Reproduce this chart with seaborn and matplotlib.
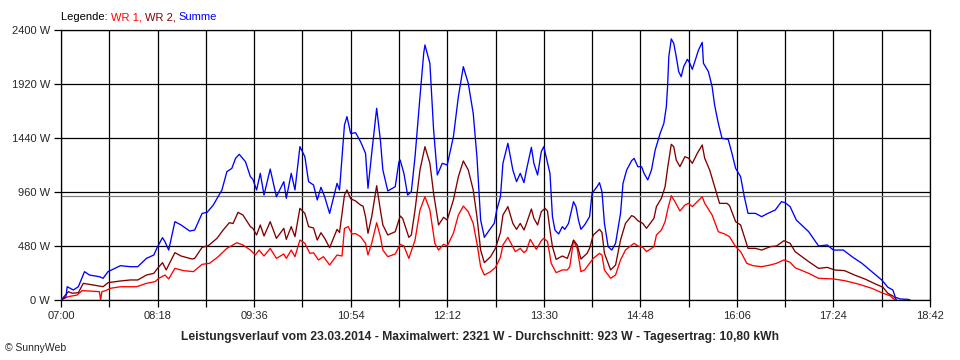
import numpy as np
import pandas as pd
import matplotlib
matplotlib.use("Agg")
import matplotlib.pyplot as plt
import seaborn as sns

# minutes after 07:00 and power in W
summe_min = [0, 4, 5, 10, 14, 19, 23, 31, 34, 38, 48, 56, 62, 69, 75, 78, 82, 84, 87, 92,
             97, 104, 108, 114, 118, 123, 130, 134, 138, 141, 144, 149, 153, 155, 158, 161, 164, 169, 174, 180,
             182, 186, 189, 193, 197, 200, 204, 207, 210, 213, 217, 223, 225, 229, 231, 234, 238, 242, 246, 248,
             251, 255, 258, 260, 264, 270, 273, 274, 277, 280, 283, 286, 290, 293, 294, 298, 301, 304, 308, 312,
             317, 321, 325, 329, 333, 336, 339, 342, 347, 350, 352, 355, 357, 361, 365, 368, 371, 374, 376, 380,
             382, 385, 388, 390, 395, 397, 399, 402, 405, 407, 410, 414, 416, 418, 420, 423, 427, 429, 433, 435,
             437, 439, 442, 445, 448, 452, 454, 457, 461, 463, 466, 469, 471, 474, 477, 480, 484, 487, 489, 490,
             491, 493, 495, 497, 499, 501, 503, 506, 508, 510, 512, 515, 518, 519, 523, 526, 528, 531, 534, 539,
             542, 545, 549, 552, 555, 561, 566, 571, 577, 582, 585, 589, 594, 604, 612, 619, 624, 632, 639, 647,
             655, 663, 668, 672, 674, 678, 684, 686]
summe_w = [0, 30, 118, 89, 118, 252, 222, 207, 193, 252, 305, 296, 296, 370, 400, 474, 554, 518, 444, 696,
           667, 613, 622, 770, 779, 844, 978, 1141, 1170, 1259, 1295, 1230, 1096, 1073, 978, 1126, 933, 1164, 918, 1052,
           904, 1126, 978, 1363, 1274, 1052, 1022, 889, 1002, 918, 770, 1037, 978, 1556, 1630, 1480, 1487, 1407, 1304, 993,
           1304, 1704, 1422, 1156, 969, 1007, 1230, 1244, 1126, 933, 963, 1274, 1807, 2193, 2267, 2104, 1511, 1111, 1215, 1200,
           1452, 1807, 2074, 1926, 1659, 1274, 711, 557, 637, 681, 800, 918, 1215, 1393, 1156, 1052, 1126, 1043, 1156, 1357,
           1215, 1111, 1319, 1363, 1126, 741, 622, 587, 652, 628, 681, 874, 830, 711, 628, 667, 741, 948, 1007, 1043,
           963, 681, 474, 444, 504, 770, 1037, 1156, 1239, 1259, 1185, 1185, 1126, 1067, 1156, 1333, 1481, 1570, 1718, 1896,
           2163, 2321, 2281, 2163, 2030, 1985, 2074, 2140, 2104, 2050, 2118, 2222, 2290, 2104, 2030, 1896, 1733, 1570, 1437, 1428,
           1304, 1170, 1096, 918, 770, 770, 741, 770, 800, 874, 865, 830, 711, 607, 480, 489, 444, 444, 385, 326,
           252, 178, 113, 89, 24, 9, 6, 0]

wr1_min = [0, 6, 13, 17, 23, 31, 32, 33, 36, 40, 48, 61, 69, 76, 79, 84, 87, 92, 99, 107,
           114, 120, 127, 134, 142, 147, 153, 157, 160, 164, 169, 174, 180, 182, 186, 189, 193, 197, 201, 204,
           208, 212, 217, 223, 227, 229, 232, 235, 238, 242, 246, 248, 251, 255, 258, 260, 264, 270, 274, 277,
           281, 286, 290, 294, 298, 302, 305, 309, 312, 317, 321, 325, 329, 333, 336, 339, 342, 347, 351, 355,
           357, 361, 367, 371, 374, 376, 379, 384, 388, 390, 393, 396, 400, 405, 409, 411, 414, 417, 420, 423,
           427, 430, 435, 437, 439, 444, 448, 452, 456, 460, 463, 466, 470, 473, 479, 481, 485, 488, 490, 493,
           496, 500, 504, 507, 510, 514, 518, 520, 526, 531, 536, 540, 545, 549, 554, 559, 566, 573, 578, 584,
           589, 593, 604, 612, 624, 633, 644, 655, 663, 670, 672, 674]
wr1_w = [0, 30, 44, 83, 80, 74, 0, 74, 83, 104, 118, 118, 148, 163, 193, 222, 187, 281, 261, 252,
         317, 326, 385, 459, 509, 489, 444, 400, 444, 391, 459, 370, 409, 370, 444, 385, 533, 504, 415, 420,
         356, 385, 311, 400, 391, 637, 652, 587, 590, 563, 504, 400, 504, 687, 563, 444, 385, 409, 495, 480,
         370, 533, 800, 918, 800, 504, 444, 495, 480, 593, 755, 835, 785, 681, 504, 296, 222, 252, 290, 380,
         489, 557, 430, 459, 421, 440, 539, 450, 527, 548, 520, 326, 243, 267, 267, 296, 527, 459, 252, 267,
         326, 370, 415, 400, 267, 193, 222, 356, 444, 480, 504, 480, 468, 430, 474, 578, 622, 696, 800, 927,
         874, 791, 844, 859, 830, 874, 918, 860, 755, 607, 587, 563, 474, 430, 326, 305, 296, 311, 326, 356,
         335, 287, 237, 193, 187, 172, 142, 104, 65, 36, 15, 0]

wr2_min = [0, 6, 9, 14, 18, 23, 31, 34, 38, 48, 56, 62, 69, 75, 78, 82, 85, 92, 97, 106,
           108, 114, 119, 126, 131, 136, 139, 143, 147, 153, 155, 158, 161, 164, 169, 174, 180, 182, 186, 189,
           193, 197, 200, 204, 207, 210, 213, 217, 223, 225, 229, 231, 234, 238, 242, 244, 246, 248, 251, 255,
           258, 260, 264, 270, 274, 276, 281, 283, 286, 290, 294, 298, 301, 305, 309, 312, 317, 321, 325, 329,
           333, 336, 339, 342, 347, 351, 355, 357, 361, 365, 368, 371, 374, 376, 380, 382, 385, 388, 391, 393,
           395, 397, 400, 405, 409, 411, 414, 417, 420, 425, 427, 430, 435, 437, 439, 444, 448, 452, 456, 461,
           463, 466, 470, 473, 479, 481, 485, 488, 490, 493, 495, 497, 500, 504, 507, 510, 514, 518, 520, 524,
           528, 532, 538, 540, 545, 549, 552, 555, 561, 566, 573, 578, 584, 589, 593, 604, 612, 619, 625, 633,
           641, 650, 658, 664, 668, 672, 674, 675]
wr2_w = [0, 74, 60, 65, 148, 139, 124, 118, 154, 169, 178, 178, 222, 237, 281, 332, 267, 421, 391, 364,
         370, 468, 483, 548, 622, 687, 680, 779, 755, 652, 637, 578, 667, 569, 696, 548, 637, 539, 652, 563,
         815, 770, 652, 640, 533, 598, 548, 465, 628, 600, 933, 978, 900, 880, 844, 835, 741, 593, 741, 1016,
         800, 667, 578, 607, 747, 725, 557, 578, 800, 1156, 1363, 1215, 948, 667, 735, 711, 889, 1096, 1236, 1156,
         978, 741, 444, 332, 385, 460, 600, 755, 830, 681, 628, 681, 622, 680, 809, 726, 667, 785, 815, 790,
         622, 474, 361, 391, 370, 430, 533, 489, 364, 415, 459, 578, 628, 600, 415, 267, 311, 533, 681, 750,
         740, 705, 681, 637, 726, 830, 904, 1007, 1170, 1384, 1363, 1244, 1185, 1274, 1260, 1215, 1304, 1378, 1259, 1156,
         1007, 859, 859, 840, 696, 667, 563, 459, 459, 444, 474, 480, 527, 504, 430, 341, 281, 290, 267, 261,
         222, 184, 142, 113, 59, 36, 15, 0]

durchschnitt = 923
start_hour = 7
x_end = 702

title = ("Leistungsverlauf vom 23.03.2014 - Maximalwert: 2321 W - "
         "Durchschnitt: 923 W - Tagesertrag: 10,80 kWh")

sns.set_style("white")
plt.rcParams['font.family'] = ['Liberation Sans', 'DejaVu Sans']

fig = plt.figure(figsize=(9.6, 3.6), dpi=100)
ax = fig.add_axes([61 / 960, 60 / 360, 869 / 960, 270 / 360])

ax.axhline(durchschnitt, color='#808080', lw=0.9, zorder=1)

series = [
    (wr1_min, wr1_w, '#ff0000'),
    (wr2_min, wr2_w, '#800000'),
    (summe_min, summe_w, '#0000ff'),
]
for t, w, c in series:
    df = pd.DataFrame({'min': t, 'W': w})
    sns.lineplot(data=df, x='min', y='W', ax=ax, color=c, linewidth=0.95,
                 estimator=None, sort=False, zorder=3)

ax.set_xlim(0, x_end)
ax.set_ylim(0, 2400)

xt = np.arange(0, x_end + 1, 39)
xl = []
for i, m in enumerate(xt):
    tot = start_hour * 60 + int(m)
    xl.append(f"{tot // 60:02d}:{tot % 60:02d}" if i % 2 == 0 else "")
ax.set_xticks(xt)
ax.set_xticklabels(xl)
yt = np.arange(0, 2401, 480)
ax.set_yticks(yt)
ax.set_yticklabels([f"{v} W" for v in yt])

ax.grid(True, color='black', lw=0.9, zorder=0)
ax.set_axisbelow(True)
ax.tick_params(direction='out', length=5, width=0.9, color='black',
               labelsize=8, pad=3, bottom=True, left=True)
for s in ax.spines.values():
    s.set_color('black')
    s.set_linewidth(0.9)
ax.set_xlabel("")
ax.set_ylabel("")

# coloured legend line at the top
fig.canvas.draw()
r = fig.canvas.get_renderer()
x0 = 61 / 960
for txt, c in [("Legende: ", 'black'), ("WR 1, ", '#ff0000'),
               ("WR 2, ", '#800000'), ("Summe", '#0000ff')]:
    t = fig.text(x0, 1 - 17 / 360, txt, color=c, fontsize=8, va='center', ha='left')
    bb = t.get_window_extent(renderer=r)
    x0 += bb.width / 960

fig.text(0.5, 1 - 337 / 360, title, ha='center', va='center',
         fontsize=8.7, fontweight='bold')
fig.text(5 / 960, 1 - 348 / 360, "\u00a9 SunnyWeb", ha='left', va='center', fontsize=7.5)

fig.savefig("out.png", dpi=100)
